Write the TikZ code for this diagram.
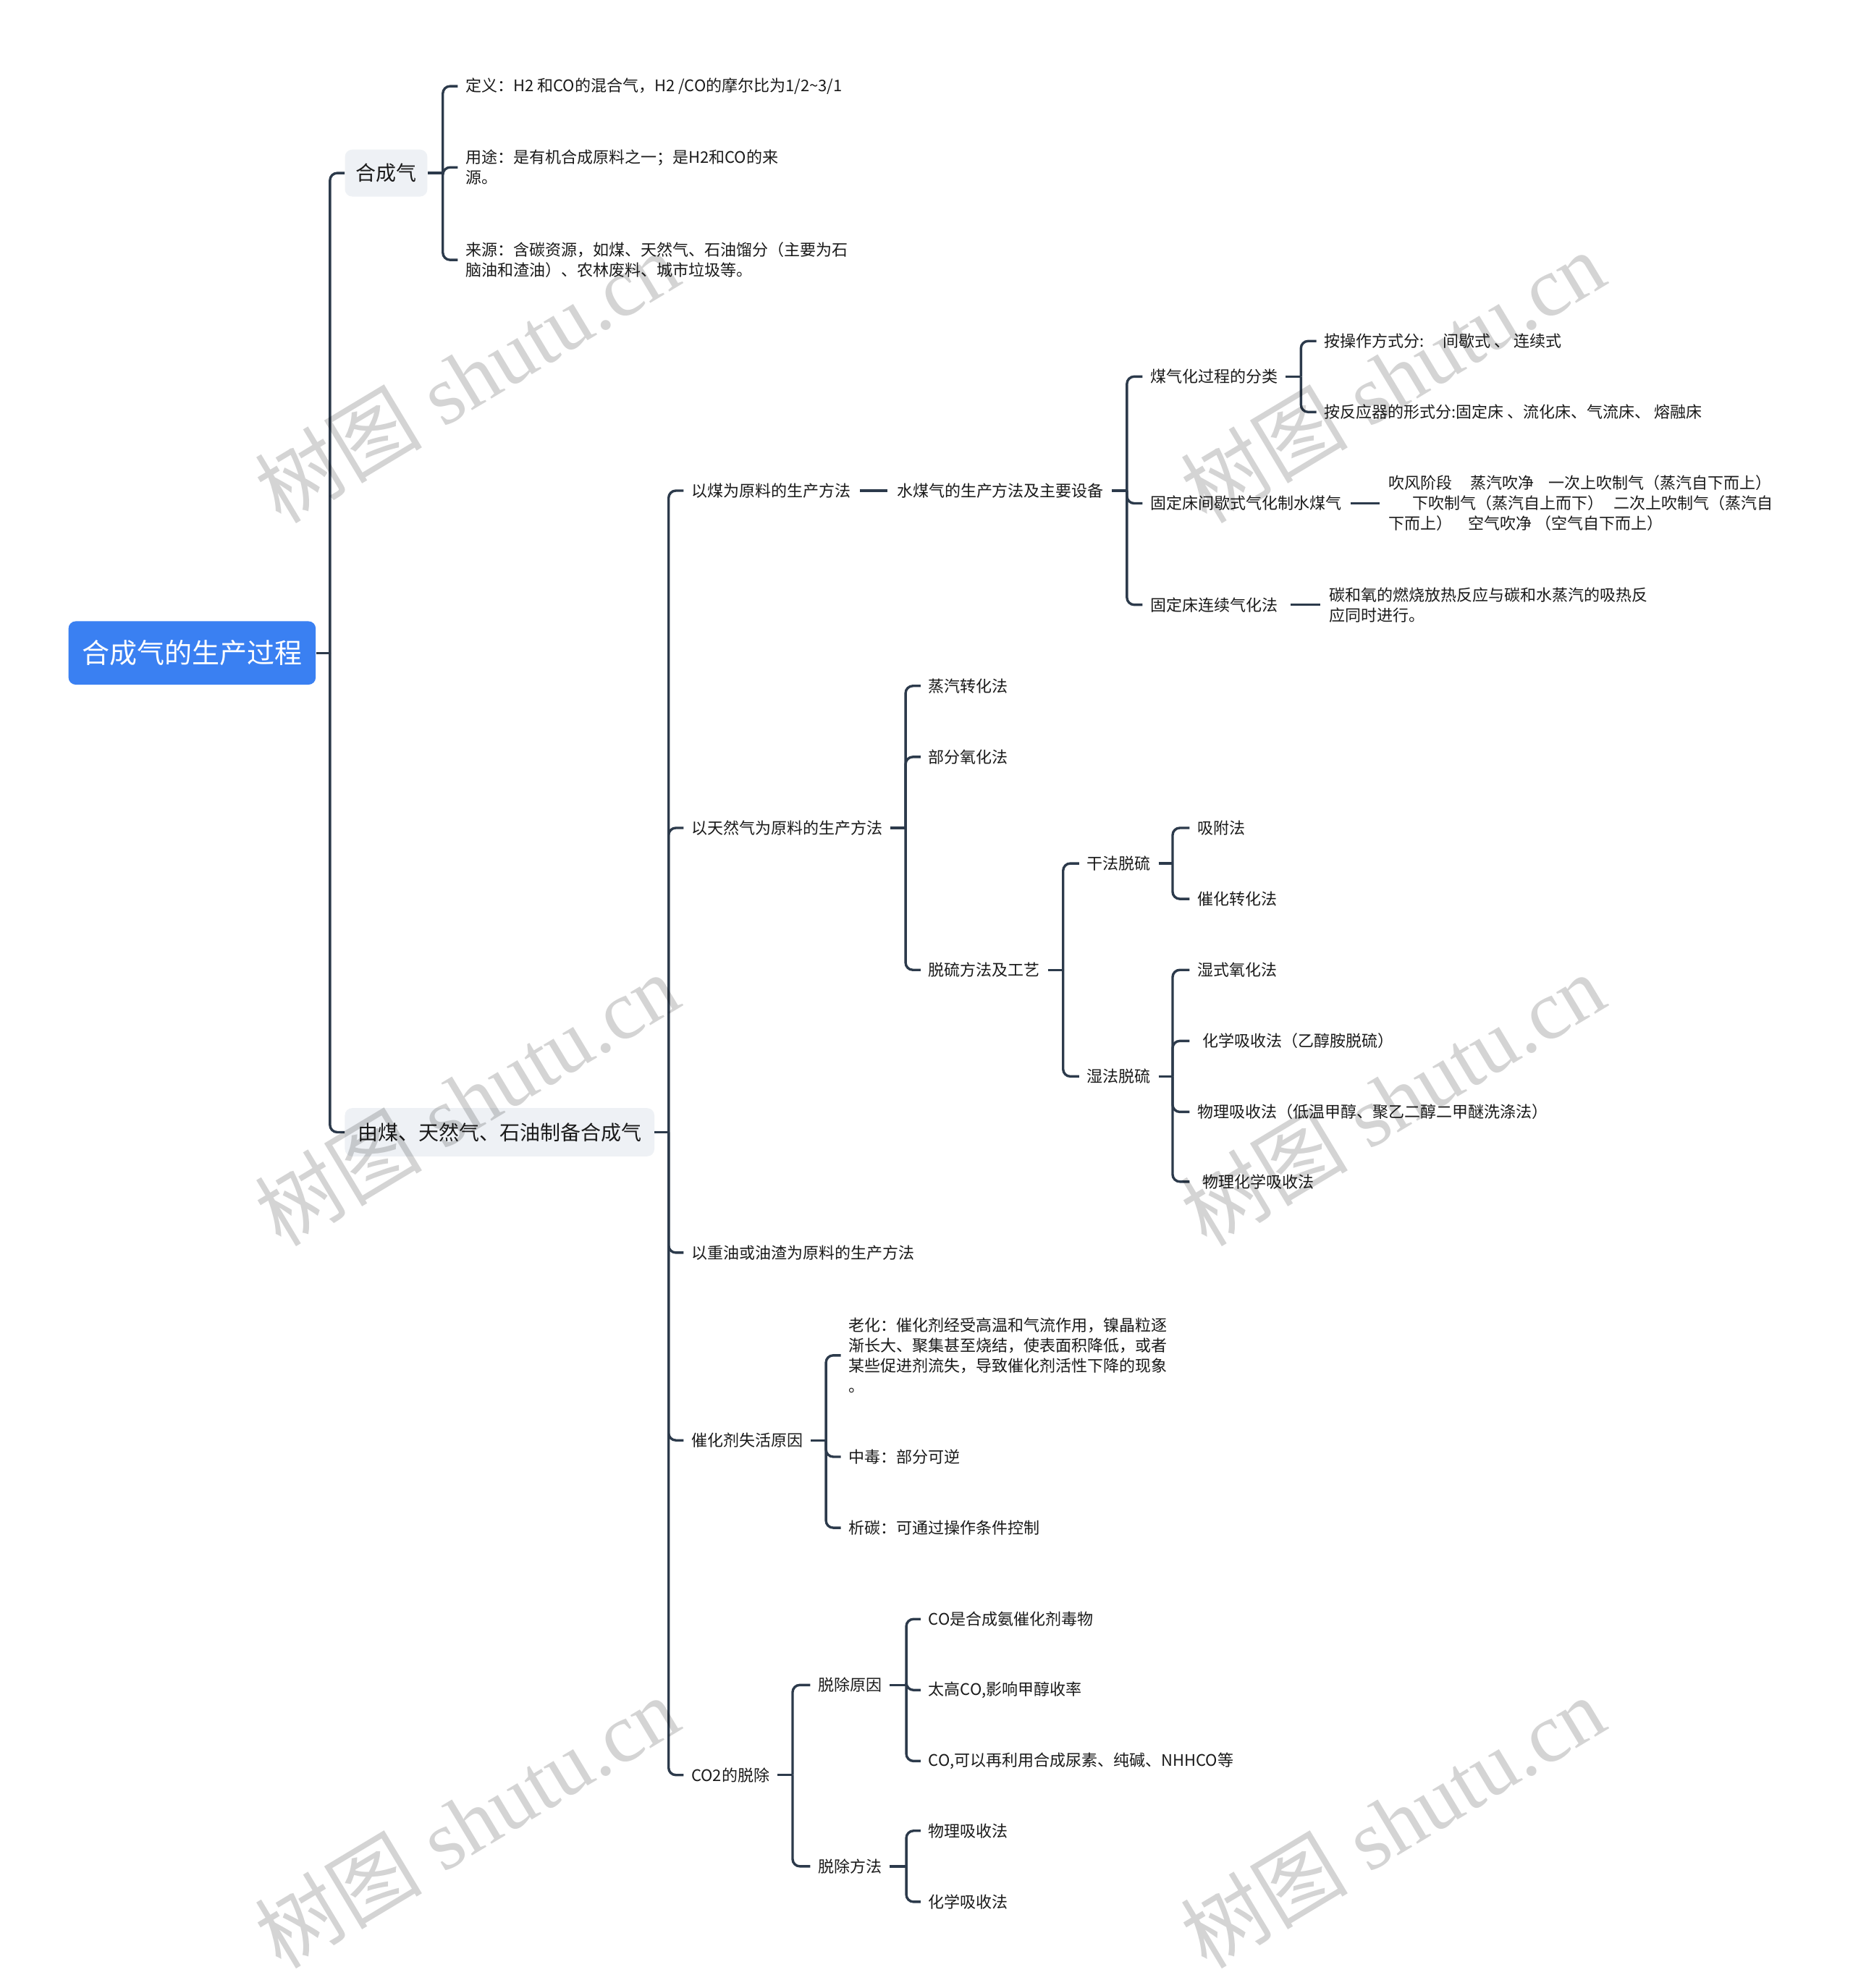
\documentclass[tikz,border=0pt]{standalone}
\usepackage{fontspec}
\setmainfont{Noto Sans CJK SC}
\newfontfamily\wmlatin{Liberation Serif}
\newfontfamily\wmcjk{Noto Sans CJK SC}
\usetikzlibrary{calc}
\definecolor{linec}{HTML}{2C3A4B}
\definecolor{rootc}{HTML}{3A80F2}
\definecolor{boxc}{HTML}{EEF1F5}
\definecolor{txtc}{HTML}{1A1A1A}
\begin{document}
\begin{tikzpicture}[x=0.8761pt, y=-0.8761pt,
  conn/.style={draw=linec, line width=1.7pt, rounded corners=5pt},
  txt/.style={anchor=west, inner sep=0pt, font=\fontsize{11}{14}\selectfont, align=left, text=txtc},
  lvone/.style={fill=boxc, rounded corners=5pt, inner sep=0pt, font=\fontsize{14}{17}\selectfont, text=txtc},
  rootbox/.style={fill=rootc, rounded corners=5pt, inner sep=0pt, font=\fontsize{19}{22}\selectfont, text=white, minimum width=170.8pt, minimum height=43.8pt},
  wm/.style={rotate=31, text=black, text opacity=0.17, font=\fontsize{58}{58}\selectfont\wmlatin, inner sep=0pt}]
\fill[white] (0,0) rectangle (1461,1568);
\useasboundingbox (0,0) rectangle (1461,1568);

% root and level 1
\node[rootbox] (root) at (151.5,515) {合成气的生产过程};
\node[lvone, minimum width=56.9pt, minimum height=32.4pt] (syn) at (304.5,136.5) {合成气};
\node[lvone, minimum width=213.8pt, minimum height=33.3pt] (prod) at (394,893) {由煤、天然气、石油制备合成气};

\path ($(root.east)+(11,0)$) coordinate (troot);
\draw[conn] (root.east) -- (troot);
\draw[conn] (troot) |- (syn.west);
\draw[conn] (troot) |- (prod.west);

% syngas children
\node[txt] (s1) at (367,68) {定义：H2 和CO的混合气，H2 /CO的摩尔比为1/2\textasciitilde 3/1};
\node[txt] (s2) at (367,132) {用途：是有机合成原料之一；是H2和CO的来\\源。};
\node[txt] (s3) at (367,205) {来源：含碳资源，如煤、天然气、石油馏分（主要为石\\脑油和渣油）、农林废料、城市垃圾等。};
\path ($(syn.east)+(12,0)$) coordinate (tsyn);
\draw[conn] (syn.east) -- (tsyn);
\foreach \c in {s1,s2,s3} \draw[conn] (tsyn) |- ($(\c.west)+(-6,0)$);

% production children
\node[txt] (c1) at (545,387) {以煤为原料的生产方法};
\node[txt] (c2) at (545,653) {以天然气为原料的生产方法};
\node[txt] (c3) at (545,988) {以重油或油渣为原料的生产方法};
\node[txt] (c4) at (545,1136) {催化剂失活原因};
\node[txt] (c5) at (545,1400) {CO2的脱除};
\path ($(prod.east)+(11,0)$) coordinate (tprod);
\draw[conn] (prod.east) -- (tprod);
\foreach \c in {c1,c2,c3,c4,c5} \draw[conn] (tprod) |- ($(\c.west)+(-6,0)$);

% coal
\node[txt] (w1) at (707,387) {水煤气的生产方法及主要设备};
\draw[conn] ($(c1.east)+(7,0)$) -- ($(w1.west)+(-7,0)$);
\node[txt] (g1) at (907,297) {煤气化过程的分类};
\node[txt] (g2) at (907,397) {固定床间歇式气化制水煤气};
\node[txt] (g3) at (907,477) {固定床连续气化法};
\path ($(w1.east)+(18,0)$) coordinate (tw1);
\draw[conn] ($(w1.east)+(6,0)$) -- (tw1);
\foreach \c in {g1,g2,g3} \draw[conn] (tw1) |- ($(\c.west)+(-6,0)$);

\node[txt] (g11) at (1044,269) {按操作方式分:\hspace{13pt}间歇式 、 连续式};
\node[txt] (g12) at (1044,325) {按反应器的形式分:固定床 、流化床、气流床、 熔融床};
\path ($(g1.east)+(18,0)$) coordinate (tg1);
\draw[conn] ($(g1.east)+(6,0)$) -- (tg1);
\foreach \c in {g11,g12} \draw[conn] (tg1) |- ($(\c.west)+(-6,0)$);

\node[txt] (g2d) at (1095,397) {吹风阶段\hspace{12.5pt}蒸汽吹净\hspace{10pt}一次上吹制气（蒸汽自下而上）\\\hspace{16.5pt}下吹制气（蒸汽自上而下）\hspace{7pt}二次上吹制气（蒸汽自\\下而上）\hspace{11pt}空气吹净 （空气自下而上）};
\draw[conn] ($(g2.east)+(7,0)$) -- ($(g2d.west)+(-7,0)$);

\node[txt] (g3d) at (1048,477) {碳和氧的燃烧放热反应与碳和水蒸汽的吸热反\\应同时进行。};
\draw[conn] ($(g3.east)+(10,0)$) -- ($(g3d.west)+(-7,0)$);

% natural gas
\node[txt] (n1) at (732,541) {蒸汽转化法};
\node[txt] (n2) at (732,597) {部分氧化法};
\node[txt] (n3) at (732,765) {脱硫方法及工艺};
\path ($(c2.east)+(18,0)$) coordinate (tc2);
\draw[conn] ($(c2.east)+(6,0)$) -- (tc2);
\foreach \c in {n1,n2,n3} \draw[conn] (tc2) |- ($(\c.west)+(-6,0)$);

\node[txt] (n31) at (857,681) {干法脱硫};
\node[txt] (n32) at (857,849) {湿法脱硫};
\path ($(n3.east)+(18,0)$) coordinate (tn3);
\draw[conn] ($(n3.east)+(6,0)$) -- (tn3);
\foreach \c in {n31,n32} \draw[conn] (tn3) |- ($(\c.west)+(-6,0)$);

\node[txt] (a1) at (944,653) {吸附法};
\node[txt] (a2) at (944,709) {催化转化法};
\path ($(n31.east)+(17,0)$) coordinate (tn31);
\draw[conn] ($(n31.east)+(6,0)$) -- (tn31);
\foreach \c in {a1,a2} \draw[conn] (tn31) |- ($(\c.west)+(-6,0)$);

\node[txt] (b1) at (944,765) {湿式氧化法};
\node[txt] (b2) at (948,821) {化学吸收法（乙醇胺脱硫）};
\node[txt] (b3) at (944,877) {物理吸收法（低温甲醇、聚乙二醇二甲醚洗涤法）};
\node[txt] (b4) at (948,932) {物理化学吸收法};
\path ($(n32.east)+(17,0)$) coordinate (tn32);
\draw[conn] ($(n32.east)+(6,0)$) -- (tn32);
\foreach \c in {b1,b3} \draw[conn] (tn32) |- ($(\c.west)+(-6,0)$);
\foreach \c in {b2,b4} \draw[conn] (tn32) |- ($(\c.west)+(-10,0)$);

% catalyst
\node[txt] (k1) at (669,1069) {老化：催化剂经受高温和气流作用，镍晶粒逐\\渐长大、聚集甚至烧结，使表面积降低，或者\\某些促进剂流失，导致催化剂活性下降的现象\\。};
\node[txt] (k2) at (669,1149) {中毒：部分可逆};
\node[txt] (k3) at (669,1205) {析碳：可通过操作条件控制};
\path ($(c4.east)+(18,0)$) coordinate (tc4);
\draw[conn] ($(c4.east)+(6,0)$) -- (tc4);
\foreach \c in {k1,k2,k3} \draw[conn] (tc4) |- ($(\c.west)+(-6,0)$);

% CO2
\node[txt] (d1) at (645,1329) {脱除原因};
\node[txt] (d2) at (645,1472) {脱除方法};
\path ($(c5.east)+(18,0)$) coordinate (tc5);
\draw[conn] ($(c5.east)+(6,0)$) -- (tc5);
\foreach \c in {d1,d2} \draw[conn] (tc5) |- ($(\c.west)+(-6,0)$);

\node[txt] (e1) at (732,1277) {CO是合成氨催化剂毒物};
\node[txt] (e2) at (732,1333) {太高CO,影响甲醇收率};
\node[txt] (e3) at (732,1389) {CO,可以再利用合成尿素、纯碱、NHHCO等};
\path ($(d1.east)+(19,0)$) coordinate (td1);
\draw[conn] ($(d1.east)+(6,0)$) -- (td1);
\foreach \c in {e1,e2,e3} \draw[conn] (td1) |- ($(\c.west)+(-6,0)$);

\node[txt] (f1) at (732,1444) {物理吸收法};
\node[txt] (f2) at (732,1500) {化学吸收法};
\path ($(d2.east)+(19,0)$) coordinate (td2);
\draw[conn] ($(d2.east)+(6,0)$) -- (td2);
\foreach \c in {f1,f2} \draw[conn] (td2) |- ($(\c.west)+(-6,0)$);

% watermarks
\foreach \wx/\wy [count=\i] in {368/297, 368/867, 368/1437, 1098/297, 1098/867, 1098/1437}
  \node[wm] (wm\i) at (\wx,\wy) {{\wmcjk 树图} shutu.cn};
\end{tikzpicture}
\end{document}
